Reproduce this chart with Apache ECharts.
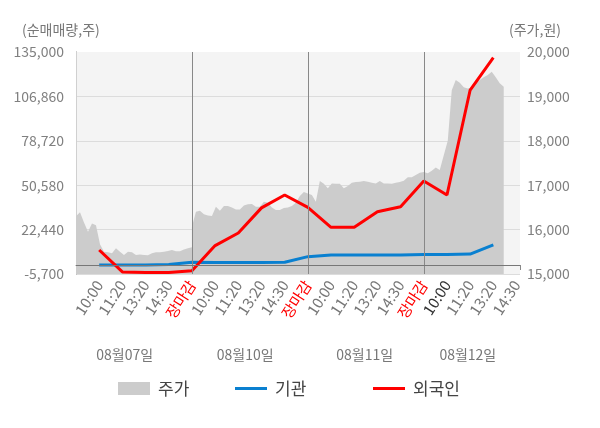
<!DOCTYPE html>
<html>
<head>
<meta charset="utf-8">
<script src="https://cdn.jsdelivr.net/npm/echarts@6/dist/echarts.min.js"></script>
<style>
html,body{margin:0;padding:0;background:#fff;}
#chart_1{width:600px;height:428px;}
</style>
</head>
<body>
<div id="chart_1"></div>
<script>
// 시간축 라벨 (슬롯 1~19)
var timeLabels = ['10:00','11:20','13:20','14:30','장마감',
                  '10:00','11:20','13:20','14:30','장마감',
                  '10:00','11:20','13:20','14:30','장마감',
                  '10:00','11:20','13:20','14:30'];
var dateLabels = ['08월07일','08월10일','08월11일','08월12일'];
// 누적 순매매량 (10:00 ~ 08/12 13:20)
var instNet = [0, 0, 0, 300, 1700, 1600, 1600, 1600, 1700, 5300,
               6300, 6300, 6300, 6400, 6600, 6700, 6900, 12700];
var foreignNet = [9500, -4400, -4750, -4750, -3600, 12300, 20300, 36200, 44400, 36500,
                  23900, 23900, 33800, 36900, 53200, 44400, 110900, 131400];
// 주가 (일자별 분봉 추정치)
var priceDay1 = [16300,16390,16160,15950,16140,16100,15670,15500,15490,15470,
                 15580,15500,15430,15500,15490,15430,15440,15430,15420,15470,
                 15490,15490,15500,15520,15540,15510,15510,15550,15580,15600];
var priceDay2 = [16065,16400,16425,16345,16315,16305,16515,16425,16530,16530,
                 16500,16455,16455,16540,16570,16575,16515,16515,16630,16605,
                 16495,16440,16440,16485,16500,16530,16605,16755,16845,16815];
var priceDay3 = [16830,16780,16630,17095,17030,16930,17040,17030,17030,16930,
                 16980,17055,17070,17080,17095,17080,17055,17040,17095,17040,
                 17040,17030,17055,17070,17100,17180,17180,17230,17280,17295];
var priceDay4 = [17290,17270,17325,17400,17340,17675,18000,19140,19370,19310,
                 19205,19180,19205,19295,19370,19430,19480,19555,19430,19295,
                 19220];

var FONT = 'Noto Sans CJK KR';
var SLOTS_PER_DAY = 5;
var STEPS_PER_DAY = 29;           // 하루 분봉 간격 수
var X_MAX = 19.15;
var datePos = [2.1, 7.3, 12.45, 16.9];  // 날짜 라벨 위치(슬롯 단위)

// 주가 데이터 -> [x, y]
var priceData = [];
[priceDay1, priceDay2, priceDay3, priceDay4].forEach(function(day, d){
    for (var i = 0; i < day.length; i++) {
        priceData.push([d * SLOTS_PER_DAY + i * SLOTS_PER_DAY / STEPS_PER_DAY, day[i]]);
    }
});
function toSlot(arr){
    return arr.map(function(v, i){ return [i + 1, v]; });
}
var labelSlots = timeLabels.map(function(t, i){ return i + 1; });

var option1 = {
    animation: false,
    textStyle: { fontFamily: FONT },
    grid: {
        left: 76, right: 80, top: 52, bottom: 154,
        show: true, backgroundColor: '#f4f4f4', borderWidth: 0
    },
    graphic: [
        { type: 'text', left: 22, top: 23,
          style: { text: '(순매매량,주)', fill: '#777', font: '14px "' + FONT + '"' } },
        { type: 'text', left: 509, top: 23,
          style: { text: '(주가,원)', fill: '#777', font: '14px "' + FONT + '"' } }
    ],
    legend: [
        { left: 113, top: 375, itemWidth: 32, itemHeight: 13, icon: 'rect',
          textStyle: { fontSize: 17, color: '#444', fontFamily: FONT, padding: [0,0,0,3] },
          data: ['주가'] },
        { left: 230, top: 375, itemWidth: 32, itemHeight: 3, icon: 'rect',
          textStyle: { fontSize: 17, color: '#444', fontFamily: FONT, padding: [0,0,0,3] },
          data: ['기관'] },
        { left: 368, top: 375, itemWidth: 32, itemHeight: 3, icon: 'rect',
          textStyle: { fontSize: 17, color: '#444', fontFamily: FONT, padding: [0,0,0,3] },
          data: ['외국인'] }
    ],
    xAxis: [
        {
            type: 'value', min: 0, max: X_MAX,
            axisLine: { lineStyle: { color: '#888' } },
            axisTick: { show: true, length: 5, customValues: [0, 5, 10, 15, X_MAX],
                        lineStyle: { color: '#888' } },
            splitLine: { show: false },
            axisLabel: {
                customValues: labelSlots,
                rotate: 57, margin: 8, fontSize: 15, fontFamily: FONT,
                formatter: function(value){
                    return timeLabels[Math.round(value) - 1] || '';
                },
                color: function(value){
                    var idx = Math.round(value) - 1;
                    if (timeLabels[idx] === '장마감') return '#ff0000';
                    if (idx === 15) return '#333';
                    return '#777';
                }
            }
        },
        {
            type: 'value', min: 0, max: X_MAX, position: 'bottom', offset: 70,
            axisLine: { show: false }, axisTick: { show: false }, splitLine: { show: false },
            axisLabel: {
                customValues: datePos, margin: 4, fontSize: 14, color: '#777', fontFamily: FONT,
                formatter: function(value){
                    return dateLabels[datePos.indexOf(value)] || '';
                }
            }
        }
    ],
    yAxis: [
        {
            type: 'value', min: -5700, max: 135000, interval: 28140,
            axisLine: { show: true, lineStyle: { color: '#888' } },
            axisTick: { show: false },
            splitLine: { lineStyle: { color: ['#dcdcdc','#dcdcdc','#dcdcdc','#dcdcdc','#dcdcdc','rgba(0,0,0,0)'] } },
            axisLabel: {
                margin: 12, fontSize: 14, color: '#808080', fontFamily: FONT,
                formatter: function(v){ return v.toLocaleString('en-US'); }
            }
        },
        {
            type: 'value', min: 15000, max: 20000, interval: 1000,
            axisLine: { show: true, lineStyle: { color: '#d0d0d0' } },
            axisTick: { show: false },
            splitLine: { show: false },
            axisLabel: {
                margin: 7, fontSize: 14, color: '#808080', fontFamily: FONT,
                formatter: function(v){ return v.toLocaleString('en-US'); }
            }
        }
    ],
    series: [
        {
            name: '주가', type: 'line', yAxisIndex: 1, xAxisIndex: 0,
            data: priceData, showSymbol: false, symbol: 'none',
            itemStyle: { color: '#cccccc' },
            lineStyle: { width: 0, color: '#cccccc' },
            areaStyle: { color: '#cccccc', opacity: 1 },
            z: 1,
            markLine: {
                silent: true, symbol: 'none', label: { show: false },
                lineStyle: { color: '#888', width: 1, type: 'solid' },
                data: [{ xAxis: 5 }, { xAxis: 10 }, { xAxis: 15 }]
            }
        },
        {
            name: '기관', type: 'line', yAxisIndex: 0, xAxisIndex: 0,
            data: toSlot(instNet), showSymbol: false, symbol: 'none',
            itemStyle: { color: '#0a80d0' },
            lineStyle: { width: 3, color: '#0a80d0' },
            z: 3,
            markLine: {
                silent: true, symbol: 'none', label: { show: false },
                lineStyle: { color: '#777', width: 1, type: 'solid' },
                data: [{ yAxis: 0 }]
            }
        },
        {
            name: '외국인', type: 'line', yAxisIndex: 0, xAxisIndex: 0,
            data: toSlot(foreignNet), showSymbol: false, symbol: 'none',
            itemStyle: { color: '#ff0000' },
            lineStyle: { width: 3, color: '#ff0000' },
            z: 4
        }
    ]
};
var myChart1 = echarts.init(document.getElementById('chart_1'));
myChart1.setOption(option1);
</script>
</body>
</html>
